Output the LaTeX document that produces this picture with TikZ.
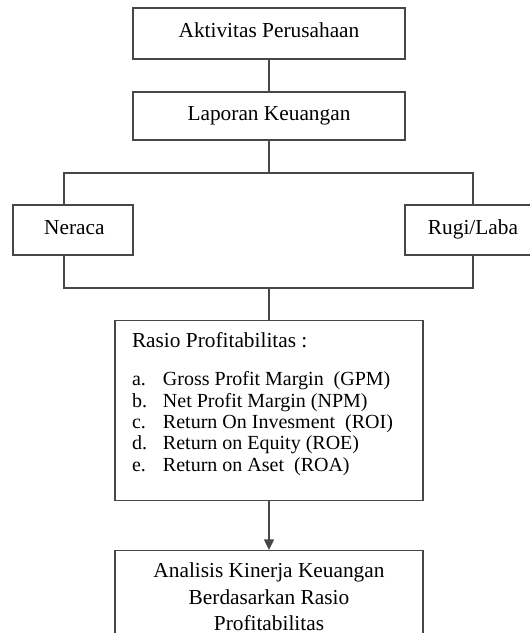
\documentclass[tikz,border=0pt]{standalone}
\usepackage{fontspec}
\setmainfont{Liberation Serif}
\usetikzlibrary{arrows.meta}
\begin{document}
\begin{tikzpicture}[x=0.75pt,y=-0.75pt,
  boxline/.style={draw=black!72,line width=1pt},
  plainbox/.style={boxline,rectangle,inner sep=0pt,font=\fontsize{16}{19}\selectfont,
    text height=11pt,text depth=5pt},
  link/.style={draw=black!72,line width=1pt},
  arrowlink/.style={link,-{Triangle[width=7.5pt,length=8pt]}}]
\useasboundingbox (0,0) rectangle (530,633);
\fill[white] (0,0) rectangle (530,633);
% boxes
\node[plainbox,minimum width=204pt,minimum height=38.25pt] (akt) at (269,33.5) {Aktivitas Perusahaan};
\node[plainbox,minimum width=204pt,minimum height=36pt] (lap) at (269,116) {Laporan Keuangan};
\node[plainbox,minimum width=90pt,minimum height=37.5pt] (ner) at (73,230) {\hspace*{2pt}Neraca};
\node[plainbox,minimum width=102pt,minimum height=37.5pt] (rugi) at (473,230) {Rugi/Laba};
\node[boxline,rectangle,inner sep=0pt,anchor=north] (rasio) at (269,320)
 {\parbox[t][135pt][t]{231pt}{\leftskip=12.75pt
   \fontsize{15}{16}\selectfont
   \rule{0pt}{20.25pt}{\fontsize{16}{19}\selectfont Rasio Profitabilitas :}\\[12.5pt]
   \makebox[23.25pt][l]{a.}Gross Profit Margin\ \ (GPM)\\
   \makebox[23.25pt][l]{b.}Net Profit Margin (NPM)\\
   \makebox[23.25pt][l]{c.}Return On Invesment\ \ (ROI)\\
   \makebox[23.25pt][l]{d.}Return on Equity (ROE)\\
   \makebox[23.25pt][l]{e.}Return on Aset\ \ (ROA)}};
\node[boxline,rectangle,inner sep=0pt,anchor=north] (anal) at (269,550)
 {\parbox[t][90pt][t]{231pt}{\centering\fontsize{16}{19.9}\selectfont
   \rule{0pt}{20.25pt}Analisis Kinerja Keuangan\\
   Berdasarkan Rasio\\
   Profitabilitas}};
% junction points
\coordinate (jt) at (269,173);
\coordinate (jtl) at (64,173);
\coordinate (jtr) at (473,173);
\coordinate (jb) at (269,288);
\coordinate (jbl) at (64,288);
\coordinate (jbr) at (473,288);
% connectors
\draw[link] (akt.south) -- (lap.north);
\draw[link] (lap.south) -- (jt);
\draw[link] (jtl|-ner.north) -- (jtl) -- (jtr) -- (rugi.north);
\draw[link] (jbl|-ner.south) -- (jbl) -- (jbr) -- (rugi.south);
\draw[link] (jb) -- (rasio.north);
\draw[arrowlink] (rasio.south) -- (anal.north);
\end{tikzpicture}
\end{document}
